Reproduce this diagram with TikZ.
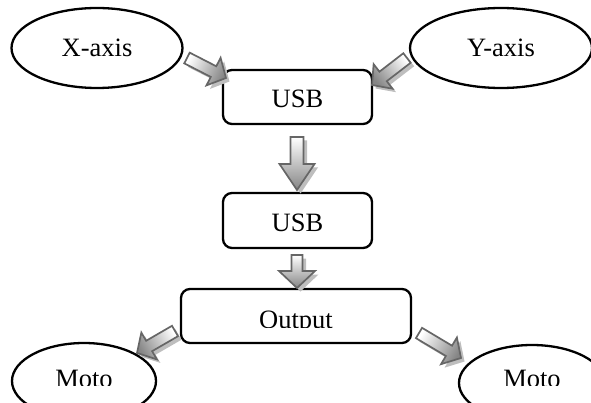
\documentclass[tikz,border=0pt]{standalone}
\usepackage{fontspec}
\setmainfont{Liberation Serif}
\usetikzlibrary{shapes.geometric}
\definecolor{arrline}{HTML}{666666}
\definecolor{arrdark}{HTML}{858585}
\definecolor{arrshadow}{HTML}{BEBEBE}
\tikzset{
  oval/.style={draw, ellipse, line width=2.3pt, inner sep=0pt,
    font=\fontsize{26.5}{31}\selectfont, text depth=0pt},
  rbox/.style={draw, rectangle, rounded corners=9pt, line width=2.3pt, inner sep=0pt,
    font=\fontsize{26.5}{31}\selectfont, text depth=0pt},
  lab/.style={anchor=base, inner sep=0pt, font=\fontsize{26.5}{31}\selectfont},
  arrowbody/.style={draw=arrline, line width=1.7pt, line join=miter,
    shading=axis, top color=white, bottom color=arrdark},
  arrowshadow/.style={fill=arrshadow}
}
\newcommand\blockarrow[5]{%
  \pgfpointdiff{\pgfpointanchor{#1}{center}}{\pgfpointanchor{#2}{center}}%
  \pgfgetlastxy{\bax}{\bay}%
  \pgfmathsetmacro\baang{atan2(\bay,\bax)}%
  \pgfmathsetmacro\balen{veclen(\bax,\bay)}%
  \pgfmathsetmacro\bab{\balen-#5}%
  \pgfmathsetmacro\bash{\baang+90}%
  \begin{scope}[shift={(#1)}, xshift=3.5pt, yshift=-3.5pt, rotate=\baang]
    \fill[arrowshadow] (0pt,-#3pt) -- (\bab pt,-#3pt) -- (\bab pt,-#4pt) -- (\balen pt,0pt)
      -- (\bab pt,#4pt) -- (\bab pt,#3pt) -- (0pt,#3pt) -- cycle;
  \end{scope}
  \begin{scope}[shift={(#1)}, rotate=\baang]
    \draw[arrowbody, shading angle=\bash] (0pt,-#3pt) -- (\bab pt,-#3pt) -- (\bab pt,-#4pt) -- (\balen pt,0pt)
      -- (\bab pt,#4pt) -- (\bab pt,#3pt) -- (0pt,#3pt) -- cycle;
  \end{scope}
}
\begin{document}
\begin{tikzpicture}[x=1pt,y=-1pt]
\useasboundingbox (0,0) rectangle (591,403);
\clip (0,0) rectangle (591,403);

% top ellipses
\node[oval, minimum width=171pt, minimum height=80pt, text height=18pt] (xa) at (97,48) {X-axis};
\node[oval, minimum width=182pt, minimum height=80pt, text height=18pt] (ya) at (501,48) {Y-axis};

% boxes
\node[rbox, minimum width=149pt, minimum height=54pt, text height=22pt] (usba) at (297.5,97) {USB};
\node[rbox, minimum width=149pt, minimum height=55pt, text height=23pt] (usbb) at (297.5,220.5) {USB};
\node[rbox, minimum width=230pt, minimum height=54pt] (out) at (296,316) {};
\begin{scope}
  \clip (0,0) rectangle (591,327);
  \node[lab] (outt) at (296,328) {Output};
\end{scope}

% bottom ellipses
\node[oval, minimum width=144pt, minimum height=76pt] (mota) at (84,381) {};
\node[oval, minimum width=146pt, minimum height=76pt] (motb) at (532,383) {};
\begin{scope}
  \clip (0,0) rectangle (591,385);
  \node[lab] (motat) at (84,387) {Moto};
  \node[lab] (motbt) at (532,387) {Moto};
\end{scope}

% arrow end points
\coordinate (a1s) at (187,58);  \coordinate (a1e) at (226,78);
\coordinate (a2s) at (407,58);  \coordinate (a2e) at (372,85);
\coordinate (a3s) at (297,137); \coordinate (a3e) at (297,190);
\coordinate (a4s) at (297,255); \coordinate (a4e) at (297,288);
\coordinate (a5s) at (175,331); \coordinate (a5e) at (137,353);
\coordinate (a6s) at (419,333); \coordinate (a6e) at (461,358);

\blockarrow{a1s}{a1e}{6}{15.5}{14}
\blockarrow{a2s}{a2e}{6}{15.5}{14}
\blockarrow{a3s}{a3e}{6.5}{17.5}{26}
\blockarrow{a4s}{a4e}{5.5}{18}{17}
\blockarrow{a5s}{a5e}{6}{15.5}{14}
\blockarrow{a6s}{a6e}{6}{15.5}{14}
\end{tikzpicture}
\end{document}
